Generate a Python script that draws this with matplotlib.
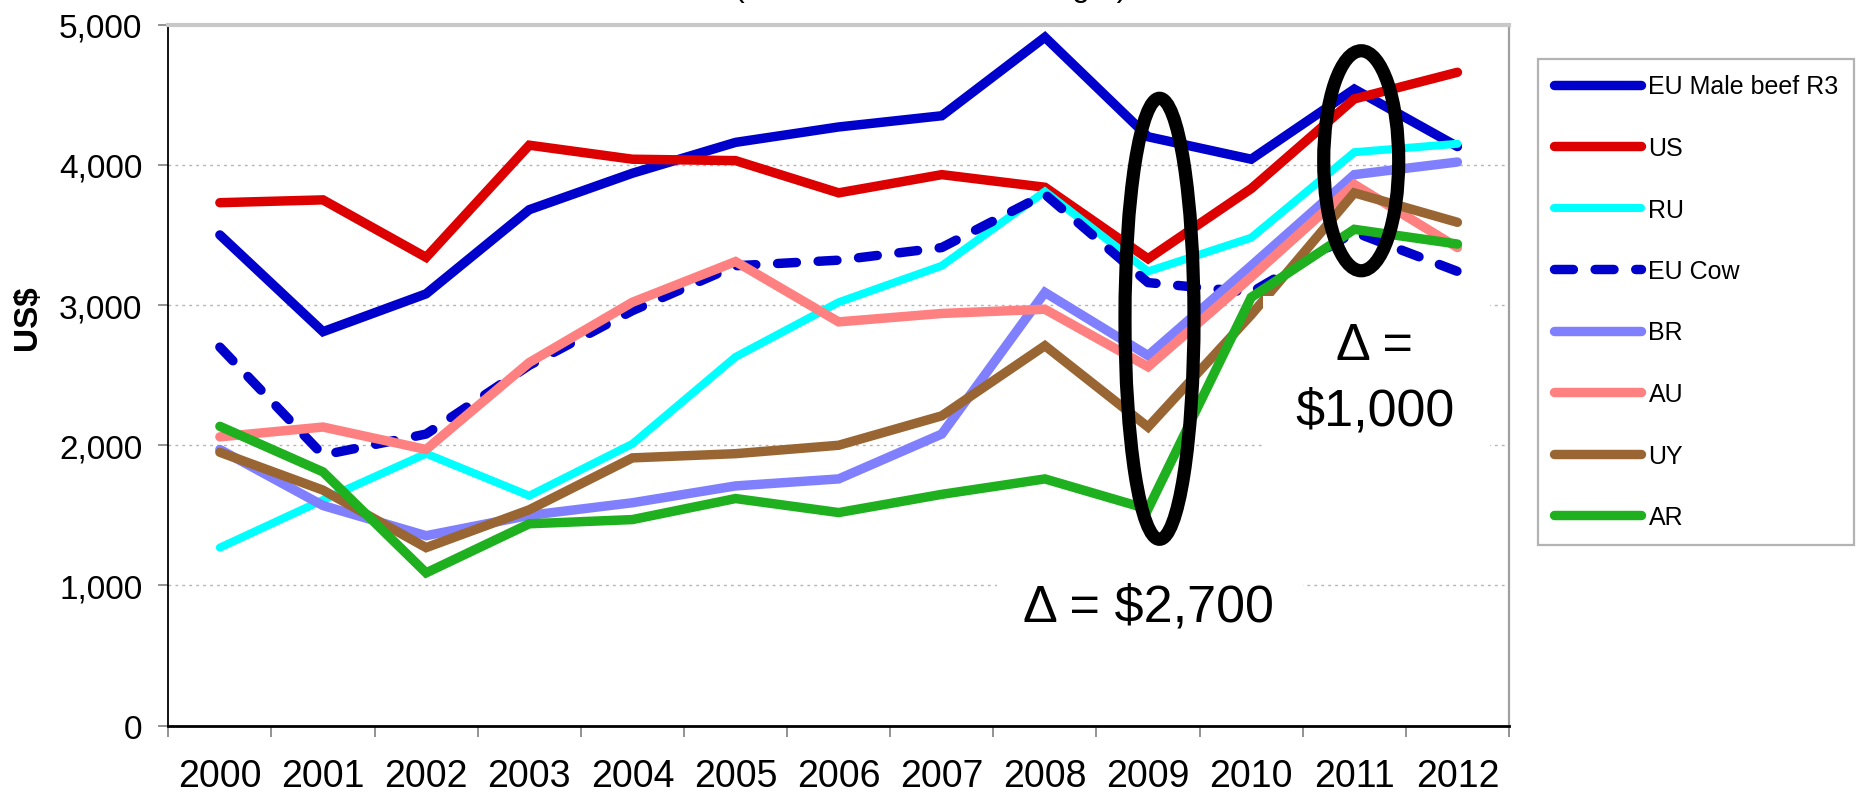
import matplotlib
matplotlib.use('Agg')
import matplotlib.pyplot as plt
from matplotlib.patches import Ellipse, Rectangle
from matplotlib.ticker import FixedLocator

plt.rcParams['font.family'] = ['Liberation Sans', 'DejaVu Sans']

# ---------------- data ----------------
years = ['2000', '2001', '2002', '2003', '2004', '2005', '2006',
         '2007', '2008', '2009', '2010', '2011', '2012']
series_names = ['EU Male beef R3', 'US', 'RU', 'EU Cow', 'BR', 'AU', 'UY', 'AR']

eu_male = [3500, 2810, 3080, 3680, 3940, 4160, 4270, 4350, 4910, 4200, 4040, 4540, 4130]
us      = [3730, 3750, 3340, 4140, 4040, 4030, 3800, 3930, 3840, 3330, 3830, 4470, 4660]
ru      = [1270, 1610, 1940, 1640, 2010, 2630, 3020, 3280, 3810, 3240, 3480, 4090, 4150]
eu_cow  = [2700, 1930, 2080, 2570, 2960, 3280, 3320, 3410, 3790, 3160, 3090, 3520, 3240]
br      = [1970, 1570, 1355, 1500, 1590, 1710, 1760, 2080, 3090, 2640, 3280, 3930, 4020]
au      = [2060, 2130, 1970, 2590, 3020, 3310, 2880, 2940, 2970, 2560, 3200, 3860, 3410]
uy      = [1950, 1680, 1270, 1540, 1910, 1940, 2000, 2210, 2710, 2130, 2930, 3800, 3590]
ar      = [2135, 1810, 1090, 1440, 1470, 1620, 1520, 1650, 1760, 1545, 3055, 3540, 3435]

y_ticks = [0, 1000, 2000, 3000, 4000, 5000]
y_label = 'US\\$'
note_small = '\u0394 = \\$2,700'
note_big_1 = '\u0394 ='
note_big_2 = '\\$1,000'
title_text = '(US\\$/tonne carcass weight)'

colors = ['#0000CC', '#DD0000', '#00FFFF', '#0000CC', '#8080FF', '#FF8080', '#996633', '#1EB01E']
dashed = [False, False, False, True, False, False, False, False]
widths = [6.8, 6.8, 5.8, 6.8, 6.8, 6.8, 6.8, 6.8]
all_values = [eu_male, us, ru, eu_cow, br, au, uy, ar]

# ---------------- figure ----------------
W, H = 1858, 803
fig = plt.figure(figsize=(W / 100, H / 100), dpi=100)
ax_left, ax_right, ax_bottom, ax_top = 168.3, 1509.0, 726.7, 25.6
ax = fig.add_axes([ax_left / W, 1 - ax_bottom / H,
                   (ax_right - ax_left) / W, (ax_bottom - ax_top) / H])

x = list(range(len(years)))
for name, vals, col, dsh, lw in zip(series_names, all_values, colors, dashed, widths):
    line, = ax.plot(x, vals, color=col, lw=lw, label=name, zorder=3,
                    solid_capstyle='round', solid_joinstyle='miter')
    if dsh:
        line.set_dashes([2.0, 2.3])
        line.set_dash_capstyle('round')

ax.set_xlim(-0.5, len(years) - 0.5)
ax.set_ylim(0, 5000)

# grid lines
for v in y_ticks[1:-1]:
    ax.axhline(v, color='#B4B4B4', lw=1.0, ls=(0, (2, 3)), zorder=1)

# ticks
ax.set_xticks(x)
ax.set_xticklabels(years, fontsize=27)
ax.tick_params(axis='x', which='major', length=0, pad=23)
ax.xaxis.set_minor_locator(FixedLocator([i - 0.5 for i in range(len(years) + 1)]))
ax.tick_params(axis='x', which='minor', length=8, width=1.2, color='#808080')
ax.set_yticks(y_ticks)
ax.set_yticklabels([f'{v:,}' for v in y_ticks], fontsize=24)
ax.tick_params(axis='y', length=7.2, width=1.2, color='#808080', pad=11.5)

# spines
ax.spines['left'].set_color('black'); ax.spines['left'].set_linewidth(1.3)
ax.spines['bottom'].set_color('black'); ax.spines['bottom'].set_linewidth(2.0)
ax.spines['right'].set_color('#A0A0A0'); ax.spines['right'].set_linewidth(1.6)
ax.spines['top'].set_color('#C8C8C8'); ax.spines['top'].set_linewidth(3.0)

# y label & (clipped, as in the reference) title
fig.text(28 / W, 1 - 318 / H, y_label, rotation=90, fontsize=24, fontweight='bold',
         ha='center', va='center')
fig.text(931 / W, 1 + 4 / H, title_text, ha='center', va='baseline', fontsize=23)

# annotations: white boxes, texts, ellipses
ax.add_patch(Rectangle((10.118, 1938), 12.32 - 10.118, 3064 - 1938,
                       fc='white', ec='none', zorder=5))
ax.add_patch(Rectangle((7.538, 618), 10.506 - 7.538, 1153 - 618,
                       fc='white', ec='none', zorder=5))
ax.text(11.20, 2614, note_big_1, ha='center', va='baseline', fontsize=37.5, zorder=7)
ax.text(11.20, 2151, note_big_2, ha='center', va='baseline', fontsize=37.5, zorder=7)
ax.text(9.0, 749, note_small, ha='center', va='baseline', fontsize=37.5, zorder=7)

ax.add_patch(Ellipse((9.111, 2902), 0.669, 3145, fill=False, ec='black',
                     lw=9.5, zorder=6, clip_on=False))
ax.add_patch(Ellipse((11.067, 4029), 0.727, 1569, fill=False, ec='black',
                     lw=9.5, zorder=6, clip_on=False))

# legend
leg = ax.legend(loc='upper left', bbox_to_anchor=(1538 / W, 1 - 60 / H),
                bbox_transform=fig.transFigure, fontsize=18, frameon=True,
                fancybox=False, edgecolor='#A0A0A0', borderpad=0.62,
                labelspacing=1.5, handlelength=3.5, handletextpad=0.3,
                borderaxespad=0)
leg.get_frame().set_linewidth(1.6)

fig.savefig('out.png', dpi=100)
